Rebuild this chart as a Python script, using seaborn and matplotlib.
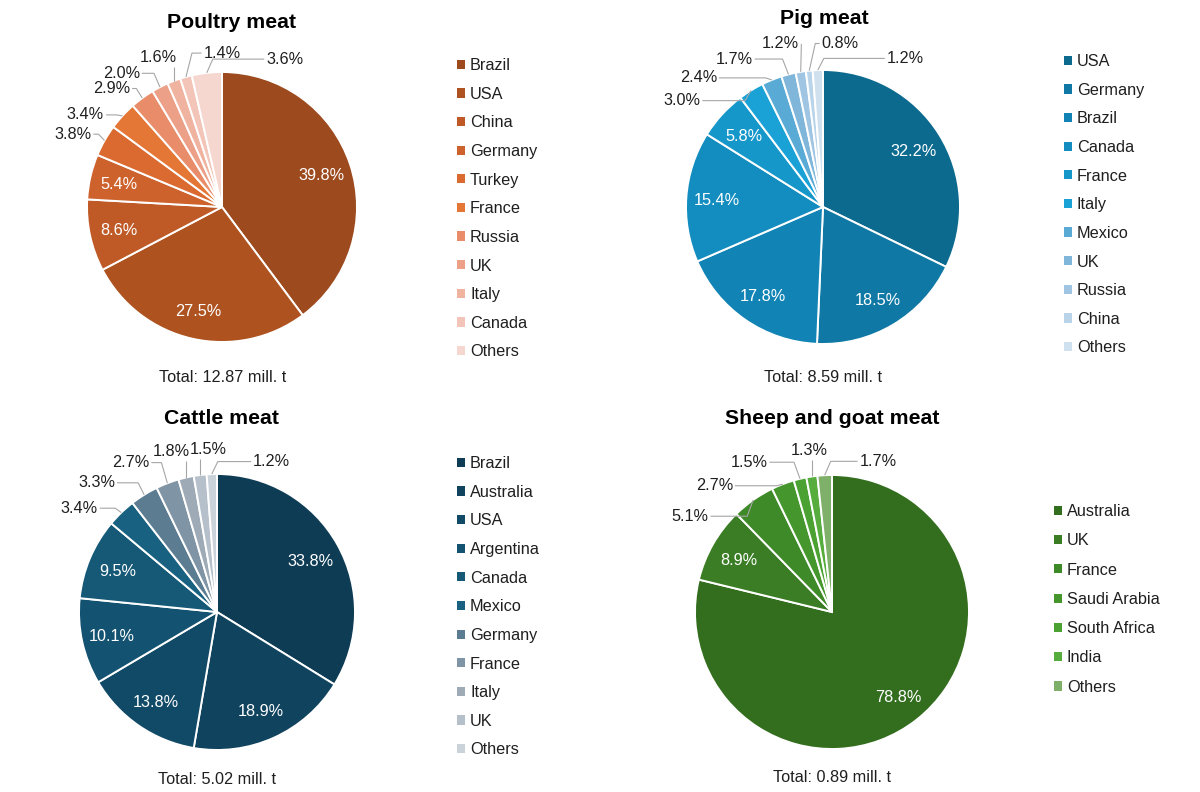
import numpy as np
import matplotlib.pyplot as plt
import seaborn as sns
from matplotlib.patches import Patch

W, H = 1200, 792

# ---- data -------------------------------------------------------------
poultry_countries = ['Brazil', 'USA', 'China', 'Germany', 'Turkey', 'France',
                     'Russia', 'UK', 'Italy', 'Canada', 'Others']
poultry_shares = [39.8, 27.5, 8.6, 5.4, 3.8, 3.4, 2.9, 2.0, 1.6, 1.4, 3.6]
poultry_colors = ['#9c4a1e', '#ae531f', '#bf5a27', '#cd622d', '#da6a30', '#e47636',
                  '#e98c6a', '#eda088', '#f0b3a0', '#f3c5b8', '#f6d7cf']

pig_countries = ['USA', 'Germany', 'Brazil', 'Canada', 'France', 'Italy',
                 'Mexico', 'UK', 'Russia', 'China', 'Others']
pig_shares = [32.2, 18.5, 17.8, 15.4, 5.8, 3.0, 2.4, 1.7, 1.2, 0.8, 1.2]
pig_colors = ['#0d6a8f', '#0f78a4', '#1184b5', '#138dbf', '#1697ca', '#1aa2d6',
              '#5aaad6', '#7fb6da', '#9fc5e2', '#b9d4e9', '#cfe1ef']

cattle_countries = ['Brazil', 'Australia', 'USA', 'Argentina', 'Canada', 'Mexico',
                    'Germany', 'France', 'Italy', 'UK', 'Others']
cattle_shares = [33.8, 18.9, 13.8, 10.1, 9.5, 3.4, 3.3, 2.7, 1.8, 1.5, 1.2]
cattle_colors = ['#0e3c54', '#0f435e', '#114a67', '#135270', '#155977', '#186181',
                 '#5c7c91', '#7f94a4', '#9eabb7', '#b6c0ca', '#cbd3da']

sheep_countries = ['Australia', 'UK', 'France', 'Saudi Arabia', 'South Africa',
                   'India', 'Others']
sheep_shares = [78.8, 8.9, 5.1, 2.7, 1.5, 1.3, 1.7]
sheep_colors = ['#336e1f', '#3a7d24', '#3f8a28', '#45962c', '#4ba232', '#56ad3d',
                '#7fb06a']

totals = ['Total: 12.87 mill. t', 'Total: 8.59 mill. t',
          'Total: 5.02 mill. t', 'Total: 0.89 mill. t']

# ---- layout (pixels) --------------------------------------------------
panels = [
    dict(title='Poultry meat', names=poultry_countries, shares=poultry_shares,
         colors=poultry_colors, total=totals[0], n_inside=4,
         out_ang=[154, 146, 133, 127, 113, 90, 67],
         out_rad=[1.23, 1.22, 1.20, 1.24, 1.20, 1.14, 1.19],
         center=(222, 207), radius=135, title_xy=(232, 22), total_xy=(223, 378),
         legend_xy=(457, 58), spacing=0.84),
    dict(title='Pig meat', names=pig_countries, shares=pig_shares,
         colors=pig_colors, total=totals[1], n_inside=5,
         out_ang=[143, 134, 121, 104.5, 84, 61],
         out_rad=[1.29, 1.31, 1.26, 1.23, 1.20, 1.24],
         center=(823, 207), radius=137, title_xy=(824, 18), total_xy=(823, 377),
         legend_xy=(1064, 54), spacing=0.84),
    dict(title='Cattle meat', names=cattle_countries, shares=cattle_shares,
         colors=cattle_colors, total=totals[2], n_inside=5,
         out_ang=[143, 133, 120, 106, 93, 70],
         out_rad=[1.25, 1.28, 1.25, 1.21, 1.18, 1.16],
         center=(217, 612), radius=138, title_xy=(222, 418), total_xy=(217, 779),
         legend_xy=(457, 456), spacing=0.84),
    dict(title='Sheep and goat meat', names=sheep_countries, shares=sheep_shares,
         colors=sheep_colors, total=totals[3], n_inside=2,
         out_ang=[146, 133, 119, 98, 73],
         out_rad=[1.25, 1.26, 1.25, 1.19, 1.15],
         center=(832, 612), radius=137, title_xy=(832, 418), total_xy=(832, 777),
         legend_xy=(1054, 504), spacing=0.88),
]

sns.set_theme(style='white')
plt.rcParams['font.family'] = ['Liberation Sans', 'DejaVu Sans']

TEXT = '#1f1f1f'
LINE = '#a6a6a6'
FS = 11.7

fig = plt.figure(figsize=(W / 100, H / 100), dpi=100)
fig.patch.set_facecolor('white')


def draw_panel(p):
    cx, cy = p['center']
    r = p['radius']
    ax = fig.add_axes([(cx - r) / W, 1 - (cy + r) / H, 2 * r / W, 2 * r / H])
    wedges, _ = ax.pie(p['shares'], colors=p['colors'], startangle=90,
                       counterclock=False,
                       wedgeprops=dict(edgecolor='white', linewidth=1.4))
    ax.set_xlim(-1, 1)
    ax.set_ylim(-1, 1)
    ax.set_aspect('equal')
    ax.axis('off')

    mids = [np.deg2rad((w.theta1 + w.theta2) / 2) for w in wedges]
    outside = []
    for i, (val, m) in enumerate(zip(p['shares'], mids)):
        label = f'{val:.1f}%'
        if i < p['n_inside']:
            ax.text(0.78 * np.cos(m), 0.78 * np.sin(m), label, ha='center',
                    va='center_baseline', color='white', fontsize=FS)
        else:
            j = i - p['n_inside']
            a = np.deg2rad(p['out_ang'][j])
            d = p['out_rad'][j]
            t = ax.text(d * np.cos(a), d * np.sin(a), label, ha='center',
                        va='center', color=TEXT, fontsize=FS, clip_on=False)
            outside.append((t, m))

    # leader lines from label to slice edge
    renderer = fig.canvas.get_renderer()
    pad = 2 / r
    elbow = 6 / r
    for t, m in outside:
        bb = t.get_window_extent(renderer).transformed(ax.transData.inverted())
        ex, ey = np.cos(m), np.sin(m)
        yc = (bb.y0 + bb.y1) / 2
        if ex < bb.x0:
            x0 = bb.x0 - pad
            xs = [x0, min(x0, ex + elbow), ex]
            ys = [yc, yc, ey]
        elif ex > bb.x1:
            x0 = bb.x1 + pad
            xs = [x0, max(x0, ex - elbow), ex]
            ys = [yc, yc, ey]
        else:
            xs = [ex, ex]
            ys = [bb.y0 - pad, ey]
        ax.plot(xs, ys, color=LINE, lw=0.8, clip_on=False, solid_capstyle='butt')

    tx, ty = p['title_xy']
    fig.text(tx / W, 1 - ty / H, p['title'], ha='center', va='center',
             fontsize=15.3, fontweight='bold', color='black')
    sx, sy = p['total_xy']
    fig.text(sx / W, 1 - sy / H, p['total'], ha='center', va='center',
             fontsize=FS, color=TEXT)

    lx, ly = p['legend_xy']
    handles = [Patch(facecolor=c, edgecolor='none') for c in p['colors']]
    leg = ax.legend(handles, p['names'], loc='upper left',
                    bbox_to_anchor=(lx / W, 1 - ly / H),
                    bbox_transform=fig.transFigure, frameon=False,
                    fontsize=FS, handlelength=0.5, handleheight=0.5,
                    handletextpad=0.3, labelspacing=p['spacing'], borderpad=0,
                    borderaxespad=0)
    for txt in leg.get_texts():
        txt.set_color(TEXT)


for p in panels:
    draw_panel(p)

fig.savefig('out.png', dpi=100)
